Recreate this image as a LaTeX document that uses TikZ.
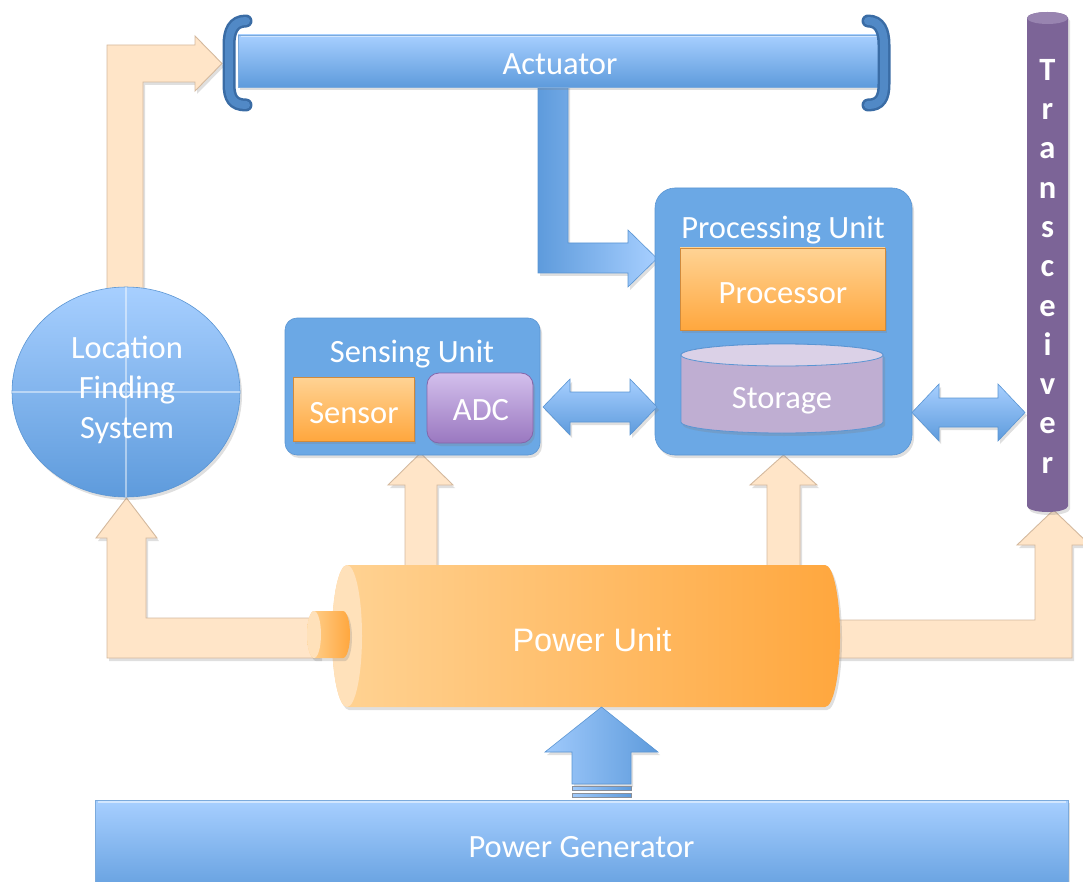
\documentclass[tikz,border=0pt]{standalone}
\usepackage{fontspec}
\setmainfont{Carlito}
\newfontfamily\arialfont{Liberation Sans}
\usetikzlibrary{shapes.geometric,shadows}

% palette
\definecolor{blueLight}{HTML}{A7CFFF}
\definecolor{blueDark}{HTML}{5E9BDC}
\definecolor{boxBlue}{HTML}{6BA8E5}
\definecolor{boxEdge}{HTML}{5A95D3}
\definecolor{bracketBlue}{HTML}{5189C6}
\definecolor{bracketEdge}{HTML}{3A6CA5}
\definecolor{orangeLight}{HTML}{FFD394}
\definecolor{orangeDark}{HTML}{FFA73E}
\definecolor{orangeEdge}{HTML}{D08A3C}
\definecolor{faceOrange}{HTML}{FFE1BA}
\definecolor{peach}{HTML}{FFE5C8}
\definecolor{peachEdge}{HTML}{D4B99E}
\definecolor{purpleLight}{HTML}{D3BFEC}
\definecolor{purpleDark}{HTML}{9A78C0}
\definecolor{purpleEdge}{HTML}{8466AA}
\definecolor{storageFill}{HTML}{BFAED2}
\definecolor{storageTop}{HTML}{DBD1E7}
\definecolor{trxPurple}{HTML}{7C6497}
\definecolor{trxTop}{HTML}{9884B0}
\definecolor{stripeGray}{HTML}{8A8F99}

\tikzset{
  dshadow/.style={drop shadow={opacity=0.25, shadow xshift=2pt, shadow yshift=-3pt}},
  peacharrow/.style={fill=peach, draw=peachEdge, line width=0.9pt, dshadow},
  bluegrad/.style={top color=blueLight, bottom color=blueDark},
  blueflow/.style={left color=blueDark, right color=blueLight, draw=boxEdge, line width=0.6pt, dshadow},
  bluedouble/.style={top color=blueLight, bottom color=blueDark, draw=boxEdge, line width=0.6pt, dshadow},
  bluebar/.style={rectangle, bluegrad, draw=boxEdge!80, line width=0.6pt, dshadow, inner sep=0pt},
  unitbox/.style={rectangle, fill=boxBlue, draw=boxEdge, line width=0.6pt, dshadow, inner sep=0pt},
  orangebox/.style={rectangle, top color=orangeLight, bottom color=orangeDark, draw=orangeEdge, line width=0.8pt, dshadow, inner sep=0pt},
  purplebox/.style={rectangle, top color=purpleLight, bottom color=purpleDark, draw=purpleEdge, line width=0.8pt, dshadow, inner sep=0pt},
  lbl/.style={text=white, inner sep=0pt, font=\fontsize{32.5}{40}\selectfont, text height=21pt, text depth=0pt},
  lblstack/.style={text=white, inner sep=0pt, align=center, font=\fontsize{32.5}{40}\selectfont},
  arlbl/.style={text=white, inner sep=0pt, font=\arialfont\fontsize{32.5}{40}\selectfont, text height=23.3pt, text depth=0pt},
  bracket/.style={line cap=round, line width=#1},
}

\begin{document}
\begin{tikzpicture}[x=1pt,y=-1pt]
\useasboundingbox (0,0) rectangle (1083,882);

% ---------- power distribution arrows (underneath the units) ----------
% location finding system -> actuator
\path[peacharrow] (107,300) -- (107,45) -- (195,45) -- (195,36) -- (222,63.5)
  -- (195,91) -- (195,82) -- (143,82) -- (143,300) -- cycle;
% power unit -> location finding system
\path[peacharrow] (320,618) -- (146,618) -- (146,538) -- (157,538) -- (126.5,498)
  -- (96,538) -- (107,538) -- (107,658) -- (320,658) -- cycle;
% power unit -> sensing unit
\path[peacharrow] (405,580) -- (405,485) -- (388,485) -- (420.5,453) -- (453,485)
  -- (437,485) -- (437,580) -- cycle;
% power unit -> processing unit
\path[peacharrow] (767,580) -- (767,485) -- (750,485) -- (783.5,455) -- (817,485)
  -- (800,485) -- (800,580) -- cycle;
% power unit -> transceiver
\path[peacharrow] (825,620) -- (1035,620) -- (1035,545) -- (1017,545) -- (1053.5,510)
  -- (1090,545) -- (1072,545) -- (1072,658) -- (825,658) -- cycle;

% actuator -> processing unit
\path[blueflow] (538,80) -- (538,273) -- (628,273) -- (628,287) -- (657,258.5)
  -- (628,230) -- (628,243) -- (568,243) -- (568,80) -- cycle;

% ---------- actuator ----------
\node[bluebar, minimum width=642pt, minimum height=52pt] (act) at (559,61) {};
\draw[white, opacity=0.5, line width=1.5pt] ([xshift=3pt,yshift=-2pt]act.north west) -- ([xshift=-3pt,yshift=-2pt]act.north east);
\draw[bracket=13pt, bracketEdge] (246,21) .. controls (233,21) and (229,31) .. (229,45)
  -- (229,84) .. controls (229,98) and (233,105) .. (246,105);
\draw[bracket=8pt, bracketBlue] (246,21) .. controls (233,21) and (229,31) .. (229,45)
  -- (229,84) .. controls (229,98) and (233,105) .. (246,105);
\draw[bracket=13pt, bracketEdge] (868,21) .. controls (880,21) and (884,31) .. (884,45)
  -- (884,84) .. controls (884,98) and (880,105) .. (868,105);
\draw[bracket=8pt, bracketBlue] (868,21) .. controls (880,21) and (884,31) .. (884,45)
  -- (884,84) .. controls (884,98) and (880,105) .. (868,105);
\node[lbl] (actT) at (560,64) {Actuator};

% ---------- processing unit ----------
\node[unitbox, rounded corners=20pt, minimum width=257pt, minimum height=267pt] (proc) at (783.5,321.5) {};
\node[lbl] (procT) at (783,228) {Processing Unit};
\node[orangebox, minimum width=205pt, minimum height=82pt] (cpu) at (782.5,289) {};
\node[lbl] (cpuT) at (783,293) {Processor};
% storage cylinder
\path[fill=storageFill, draw=boxEdge, line width=0.8pt, dshadow] (681,355) -- (681,422)
  arc[start angle=180, end angle=0, x radius=101, y radius=11]
  -- (883,355) arc[start angle=0, end angle=-180, x radius=101, y radius=11] -- cycle;
\draw[fill=storageTop, draw=boxEdge, line width=0.8pt] (782,355) ellipse[x radius=101, y radius=11];
\node[lbl] (stor) at (782,398) {Storage};

% ---------- sensing unit ----------
\node[unitbox, rounded corners=12pt, minimum width=255pt, minimum height=137pt] (sense) at (412.5,386.5) {};
\node[lbl] (senseT) at (412,352) {Sensing Unit};
\node[orangebox, minimum width=121pt, minimum height=64pt] (sensor) at (353.5,409) {};
\node[lbl] (sensorT) at (354,413) {Sensor};
\node[purplebox, rounded corners=12pt, minimum width=106pt, minimum height=70pt] (adc) at (480,408) {};
\node[lbl] (adcT) at (481,410) {ADC};

% ---------- two-way data links ----------
\path[bluedouble] (543,407) -- (570,379) -- (570,392) -- (630,392) -- (630,379) -- (657,407)
  -- (630,435) -- (630,422) -- (570,422) -- (570,435) -- cycle;
\path[bluedouble] (912,412.5) -- (939,384) -- (939,398) -- (998,398) -- (998,384) -- (1025,412.5)
  -- (998,441) -- (998,427) -- (939,427) -- (939,441) -- cycle;

% ---------- location finding system ----------
\node[ellipse, bluegrad, draw=boxEdge, line width=0.6pt, dshadow, minimum width=228pt,
      minimum height=210pt, inner sep=0pt] (loc) at (126,392) {};
\draw[white, opacity=0.45, line width=1.2pt] (loc.north) -- (loc.south) (loc.west) -- (loc.east);
\node[lblstack] (locT) at (127,390) {Location\\Finding\\System};

% ---------- transceiver ----------
\path[fill=trxPurple, dshadow] (1027,18) -- (1027,506)
  arc[start angle=180, end angle=0, x radius=20.5, y radius=6]
  -- (1068,18) arc[start angle=0, end angle=-180, x radius=20.5, y radius=6] -- cycle;
\fill[trxTop] (1047.5,18) ellipse[x radius=20.5, y radius=6];
\node[text=white, inner sep=0pt, align=center, anchor=north,
      font=\fontsize{32.5}{39.3}\selectfont\bfseries] (trx) at (1047.5,59)
  {T\\r\\a\\n\\s\\c\\e\\i\\v\\e\\r};

% ---------- power unit ----------
\path[left color=orangeLight, right color=orangeDark, dshadow] (347,565) -- (825,565)
  arc[start angle=-90, end angle=90, x radius=15, y radius=71]
  -- (347,707) arc[start angle=90, end angle=270, x radius=15, y radius=71] -- cycle;
\fill[faceOrange] (347,636) ellipse[x radius=15, y radius=71];
\path[left color=orangeLight, right color=orangeDark, dshadow] (314,611) -- (343,611)
  arc[start angle=-90, end angle=90, x radius=7, y radius=23.5]
  -- (314,658) arc[start angle=90, end angle=270, x radius=7, y radius=23.5] -- cycle;
\fill[faceOrange] (314,634.5) ellipse[x radius=7, y radius=23.5];
\node[arlbl] (pwrT) at (592,640) {Power Unit};

% ---------- power generator ----------
\path[left color=blueLight!90!blueDark, right color=blueDark, draw=boxEdge, line width=0.6pt, dshadow]
  (572,784) -- (572,752) -- (545,752) -- (601.5,707) -- (658,752) -- (631,752) -- (631,784) -- cycle;
\path[left color=blueLight!90!blueDark, right color=blueDark, draw=stripeGray, line width=0.8pt]
  (572,786.5) rectangle (631,790.5);
\path[left color=blueLight!90!blueDark, right color=blueDark, draw=stripeGray, line width=0.8pt]
  (572,793) rectangle (631,797.5);
\node[bluebar, anchor=north west, minimum width=973pt, minimum height=100pt] (gen) at (95,800) {};
\draw[white, opacity=0.5, line width=1.5pt] ([xshift=3pt,yshift=-2pt]gen.north west) -- ([xshift=-3pt,yshift=-2pt]gen.north east);
\node[lbl] (genT) at (581.5,847) {Power Generator};

\end{tikzpicture}
\end{document}
